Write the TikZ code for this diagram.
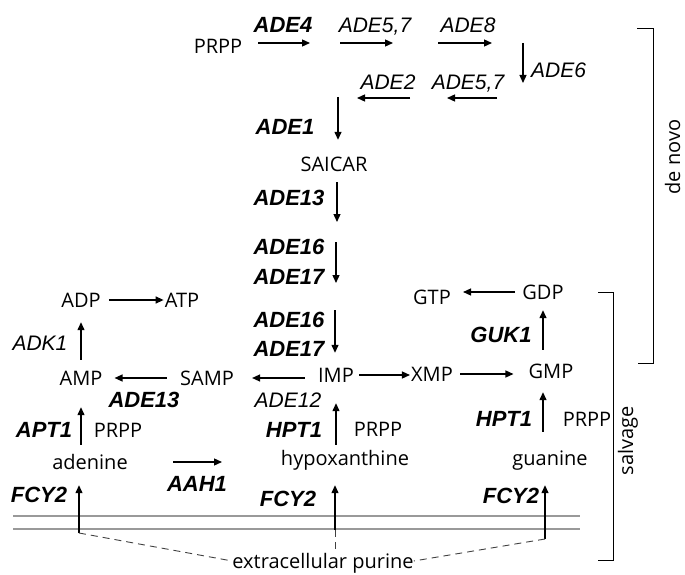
\documentclass[tikz,border=0pt]{standalone}
\usepackage{fontspec}
\setmainfont{Open Sans}
\newfontfamily\genefont{Liberation Sans}
\usetikzlibrary{arrows.meta}

\tikzset{
	met/.style={font=\fontsize{20}{24}\selectfont, inner sep=0pt, text height=14pt, text depth=0pt},
	gene/.style={font=\genefont\itshape\fontsize{21}{24}\selectfont, inner sep=0pt, text height=15pt, text depth=0pt},
	bgene/.style={gene, font=\genefont\bfseries\itshape\fontsize{22}{24}\selectfont},
	arr/.style={-{Triangle[length=8pt,width=7pt]}, line width=1.3pt},
	membrane/.style={black!40, line width=1.5pt},
	purine/.style={black!75, line width=0.9pt, dash pattern=on 7pt off 5pt},
	bracket/.style={line width=0.9pt}
}

\begin{document}
\begin{tikzpicture}[x=1pt, y=-1pt]
		\useasboundingbox (0,0) rectangle (685,575);

		% de novo branch
		\node[met] (prpp) at (218,47) {PRPP};
		\node[bgene] (ade4) at (283,25) {ADE4};
		\node[gene] (ade57a) at (375,25) {ADE5,7};
		\node[gene] (ade8) at (468,25) {ADE8};
		\node[gene, anchor=west] (ade6) at (531,70) {ADE6};
		\node[gene] (ade2) at (388,82) {ADE2};
		\node[gene] (ade57b) at (468,82) {ADE5,7};
		\node[bgene] (ade1) at (285,127) {ADE1};
		\node[met] (saicar) at (334,164) {SAICAR};
		\node[bgene] (ade13a) at (289,198) {ADE13};
		\node[bgene] (ade16a) at (289,247) {ADE16};
		\node[bgene] (ade17a) at (289,277) {ADE17};
		\node[bgene] (ade16b) at (289,320) {ADE16};
		\node[bgene] (ade17b) at (289,349) {ADE17};

		\coordinate (s1) at (258,43); \coordinate (e1) at (310,43);
		\coordinate (s2) at (340,43); \coordinate (e2) at (393,43);
		\coordinate (s3) at (438,43); \coordinate (e3) at (492,43);
		\coordinate (s4) at (523,43); \coordinate (e4) at (523,83);
		\coordinate (s5) at (497,98); \coordinate (e5) at (447,98);
		\coordinate (s6) at (410,98); \coordinate (e6) at (357,98);
		\coordinate (s9) at (336,242); \coordinate (e9) at (336,283);
		\foreach \a/\b in {s1/e1, s2/e2, s3/e3, s4/e4, s5/e5, s6/e6, s9/e9}
			\draw[arr] (\a) -- (\b);

		\coordinate (s7) at (338,97);
		\coordinate (e8) at (337,222);
		\coordinate (s10) at (335,310);
		\draw[arr, shorten >=17pt] (s7) -- (s7 |- saicar.north);
		\draw[arr, shorten <=11pt] (e8 |- saicar.south) -- (e8);

		% nucleotides
		\node[met] (adp) at (81,300) {ADP};
		\node[met] (atp) at (182,300) {ATP};
		\node[met] (amp) at (81,378) {AMP};
		\node[met] (samp) at (207,378) {SAMP};
		\node[met] (imp) at (336,375) {IMP};
		\node[met] (xmp) at (432,374) {XMP};
		\node[met] (gmp) at (551,371) {GMP};
		\node[met] (gtp) at (432,297) {GTP};
		\node[met] (gdp) at (543,292) {GDP};
		\draw[arr, shorten >=15pt] (s10) -- (s10 |- imp.north);

		\node[gene] (adk1) at (40,343) {ADK1};
		\node[bgene] (ade13b) at (144,400) {ADE13};
		\node[gene] (ade12) at (288,400) {ADE12};
		\node[bgene] (guk1) at (501,335) {GUK1};

		\draw[arr, shorten <=8pt, shorten >=1pt] (adp) -- (atp);
		\draw[arr, shorten <=11pt, shorten >=15pt] (amp) -- (adp);
		\draw[arr, shorten <=13pt, shorten >=12pt] (samp) -- (amp);
		\draw[arr, shorten <=13pt, shorten >=18pt] (samp -| imp.west) -- (samp);
		\draw[arr, shorten <=5pt, shorten >=1pt] (imp) -- (imp -| xmp.west);
		\draw[arr, shorten <=7pt, shorten >=15pt] (xmp) -- (xmp -| gmp.west);
		\draw[arr, shorten <=14pt, shorten >=11pt] (gmp.north -| gdp) -- (gdp);
		\draw[arr, shorten <=7pt, shorten >=12pt] (gdp) -- (gdp -| gtp.east);

		% bases
		\node[met] (prppa) at (118,430) {PRPP};
		\node[met] (prpph) at (378,429) {PRPP};
		\node[met] (prppg) at (587,419) {PRPP};
		\node[bgene] (apt1) at (44,430) {APT1};
		\node[bgene] (hpt1a) at (294,430) {HPT1};
		\node[bgene] (hpt1b) at (504,419) {HPT1};
		\node[met] (adenine) at (90,462) {adenine};
		\node[met] (hypox) at (345,458) {hypoxanthine};
		\node[met] (guanine) at (550,458) {guanine};
		\node[bgene] (aah1) at (197,484) {AAH1};
		\foreach \n/\x/\y in {fcya/39/495, fcyb/288/499, fcyc/511/496}
			\node[bgene] (\n) at (\x,\y) {FCY2};

		\draw[arr, shorten <=10pt, shorten >=22pt] (adenine.north -| amp) -- (amp);
		\draw[arr, shorten <=6pt, shorten >=21pt] (hypox.north -| imp) -- (imp);
		\draw[arr, shorten <=19pt, shorten >=14pt] (guanine.north -| gdp) -- (gmp.south -| gdp);
		\coordinate (aahs) at (173,462); \coordinate (aahe) at (222,462);
		\draw[arr] (aahs) -- (aahe);

		% membrane and uptake
		\draw[membrane] (13,516) -- (580,516);
		\draw[membrane] (13,529) -- (580,529);
		\node[met] (extra) at (323,561) {extracellular purine};
		\coordinate (m1) at (79,533);
		\coordinate (m2) at (335,530);
		\coordinate (m3) at (545,539);
		\draw[arr, shorten >=16pt] (m1) -- (m1 |- adenine.south);
		\draw[arr, shorten >=20pt] (m2) -- (m2 |- hypox.south);
		\draw[arr, shorten >=20pt] (m3) -- (m3 |- guanine.south);
		\draw[purine] (m1) -- (extra.west);
		\draw[purine] (m2) -- (m2 |- extra.north);
		\draw[purine] (m3) -- (extra.east);

		% brackets
		\draw[bracket] (637,28) -- (653,28) -- (653,363) -- (638,363);
		\draw[bracket] (598,292) -- (613,292) -- (613,560) -- (598,560);
		\node[met, rotate=90] (denovo) at (673,157) {de novo};
		\node[met, rotate=90] (salvage) at (626,441) {salvage};
\end{tikzpicture}
\end{document}
